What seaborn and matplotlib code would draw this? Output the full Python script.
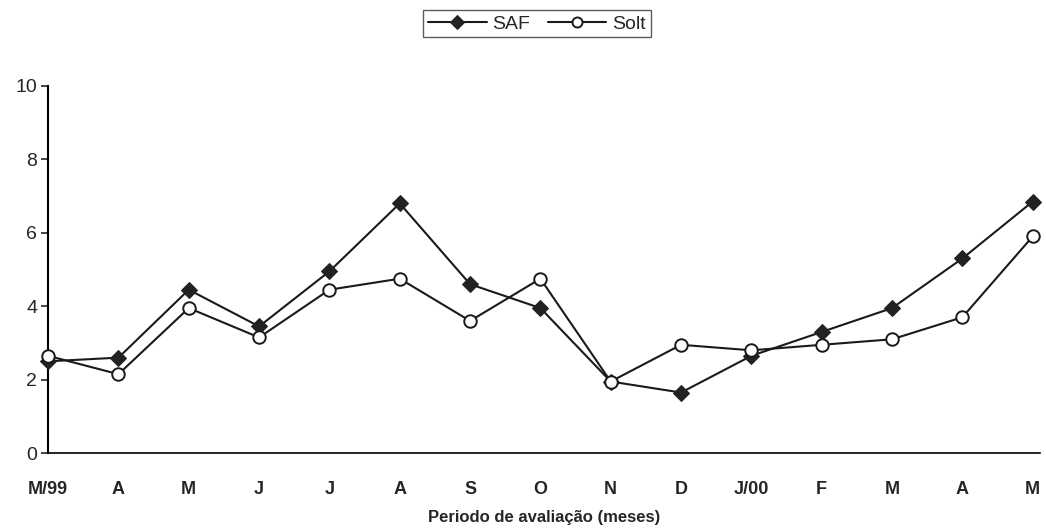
import numpy as np
import pandas as pd
import matplotlib
matplotlib.use('Agg')
import matplotlib.pyplot as plt
import seaborn as sns

months = ['M/99', 'A', 'M', 'J', 'J', 'A', 'S', 'O', 'N', 'D', 'J/00', 'F', 'M', 'A', 'M']
saf = [2.5, 2.6, 4.45, 3.45, 4.95, 6.8, 4.6, 3.95, 1.95, 1.65, 2.65, 3.3, 3.95, 5.3, 6.85]
solt = [2.65, 2.15, 3.95, 3.15, 4.45, 4.75, 3.6, 4.75, 1.95, 2.95, 2.8, 2.95, 3.1, 3.7, 5.9]


def main():
    sns.set_theme(style='white')
    plt.rcParams['font.family'] = ['Liberation Sans', 'DejaVu Sans']

    df = pd.DataFrame({'pos': np.arange(len(months)), 'SAF': saf, 'Solt': solt})

    fig = plt.figure(figsize=(10.46, 5.3), dpi=100)
    ax = fig.add_axes([0.046, 0.145, 0.948, 0.693])

    sns.lineplot(data=df, x='pos', y='SAF', ax=ax, color='#1a1a1a', lw=1.5,
                 marker='D', markersize=8.5, markerfacecolor='#222222',
                 markeredgecolor='#222222', label='SAF', clip_on=False, zorder=3)
    sns.lineplot(data=df, x='pos', y='Solt', ax=ax, color='#1a1a1a', lw=1.5,
                 marker='o', markersize=9, markerfacecolor='white',
                 markeredgecolor='#1a1a1a', markeredgewidth=1.4, label='Solt',
                 clip_on=False, zorder=4)

    ax.set_xlim(0, 14.1)
    ax.set_ylim(0, 10)
    ax.set_yticks([0, 2, 4, 6, 8, 10])
    ax.set_xticks(range(len(months)))
    ax.set_xticklabels(months, fontsize=13, fontweight='bold')
    ax.tick_params(axis='y', labelsize=14, left=True, length=5, width=1.2, pad=3)
    ax.tick_params(axis='x', bottom=False, pad=14)

    for s in ['top', 'right']:
        ax.spines[s].set_visible(False)
    ax.spines['left'].set_color('black')
    ax.spines['left'].set_linewidth(1.5)
    ax.spines['bottom'].set_color('black')
    ax.spines['bottom'].set_linewidth(1.2)

    ax.set_xlabel('Periodo de avaliação (meses)', fontsize=12, fontweight='bold', labelpad=9)
    ax.set_ylabel('')

    ax.legend(loc='center', bbox_to_anchor=(0.493, 1.169), ncol=2, frameon=True,
              fancybox=False, edgecolor='#333333', fontsize=14, handlelength=3.0,
              columnspacing=0.9, handletextpad=0.3, borderpad=0.25, markerscale=0.8)

    fig.savefig('out.png', dpi=100)


if __name__ == '__main__':
    main()
